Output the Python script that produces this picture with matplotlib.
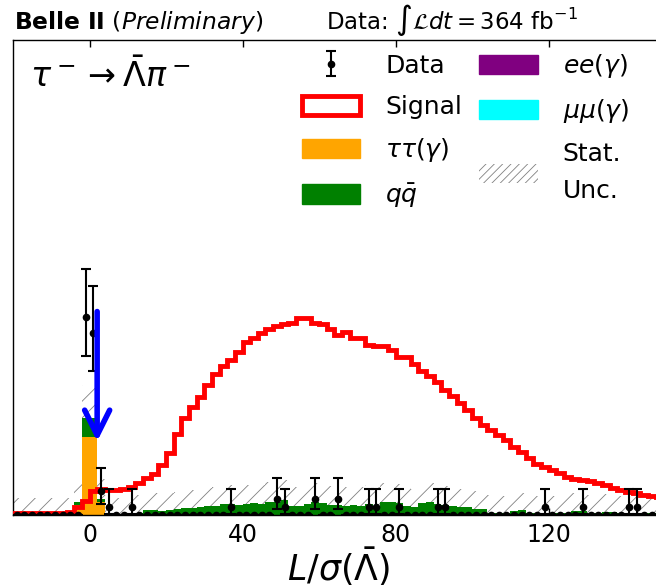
import numpy as np
import matplotlib.pyplot as plt
from matplotlib.patches import Patch

plt.rcParams['font.family'] = ['DejaVu Sans']
plt.rcParams['mathtext.fontset'] = 'dejavusans'
plt.rcParams['hatch.linewidth'] = 0.6

# binning: 2 units wide from -20 to 150
edges = np.arange(-20, 152, 2)
centers = edges[:-1] + 1

data_counts = [0, 0, 0, 0, 0, 0, 0, 0, 0, 25,
               23, 3, 1, 0, 0, 1, 0, 0, 0, 0,
               0, 0, 0, 0, 0, 0, 0, 0, 1, 0,
               0, 0, 0, 0, 2, 1, 0, 0, 0, 2,
               0, 0, 2, 0, 0, 0, 1, 1, 0, 0,
               1, 0, 0, 0, 0, 1, 1, 0, 0, 0,
               0, 0, 0, 0, 0, 0, 0, 0, 0, 1,
               0, 0, 0, 0, 1, 0, 0, 0, 0, 0,
               1, 1, 0, 0, 0]

signal = [0.3, 0.3, 0.3, 0.3, 0.3, 0.3, 0.3, 0.4, 1.0, 1.8,
          3.0, 3.3, 3.2, 3.2, 3.3, 3.5, 4.0, 4.7, 5.2, 6.3,
          7.8, 10.2, 12.2, 13.6, 14.9, 16.4, 17.8, 18.8, 19.6, 20.6,
          21.9, 22.4, 23.0, 23.5, 23.9, 24.1, 24.3, 24.9, 24.9, 24.3,
          24.1, 23.5, 22.7, 23.1, 22.3, 22.3, 21.5, 21.3, 21.3, 20.9,
          19.9, 19.9, 19.1, 18.2, 17.5, 16.8, 15.8, 15.0, 14.1, 13.3,
          12.2, 11.4, 10.7, 10.1, 9.5, 8.6, 8.0, 7.2, 6.5, 6.1,
          5.7, 5.3, 4.8, 4.6, 4.4, 4.3, 4.0, 3.8, 3.4, 3.2,
          2.9, 2.8, 2.5, 2.4, 2.3]

tautau = [0, 0, 0, 0, 0, 0, 0, 0, 1.3, 9.9,
          9.9, 1.7, 0.3, 0, 0, 0, 0, 0, 0, 0,
          0, 0, 0, 0, 0, 0, 0, 0, 0, 0,
          0, 0, 0, 0, 0, 0, 0, 0, 0, 0,
          0, 0, 0, 0, 0, 0, 0, 0, 0, 0,
          0, 0, 0, 0, 0, 0, 0, 0, 0, 0,
          0, 0, 0, 0, 0, 0, 0, 0, 0, 0,
          0, 0, 0, 0, 0, 0, 0, 0, 0, 0,
          0, 0, 0, 0, 0]

qqbar = [0, 0, 0, 0, 0, 0, 0, 0, 0.3, 2.4,
         2.4, 0.3, 0, 0, 0, 0, 0.3, 0.6, 0.6, 0.5,
         0.6, 0.7, 0.9, 0.9, 1.0, 1.1, 1.2, 1.4, 1.4, 1.3,
         1.4, 1.5, 1.4, 1.7, 1.6, 1.9, 1.2, 1.2, 1.4, 1.6,
         1.5, 1.3, 1.3, 1.2, 1.3, 1.2, 1.4, 1.2, 1.6, 1.7,
         1.5, 1.1, 1.0, 1.5, 1.6, 1.4, 1.3, 1.2, 1.0, 1.0,
         0.8, 0.7, 0.3, 0.2, 0.2, 0.5, 0.6, 0.3, 0.2, 0.2,
         0.2, 0.2, 0.3, 0.5, 0.5, 0.3, 0.3, 0.4, 0.4, 0.2,
         0.2, 0.2, 0.3, 0.2, 0.2]

ee = [0] * 85
mumu = [0] * 85

unc_floor = 2.1   # stat. unc. level in empty bins

data_counts = np.array(data_counts, dtype=float)
stack = np.array(tautau) + np.array(qqbar) + np.array(ee) + np.array(mumu)
unc = np.sqrt(unc_floor**2 + stack)
band_lo = np.clip(stack - unc, 0, None)
band_hi = stack + unc

# asymmetric poisson errors (Gehrels approx.), none drawn for empty bins
n = data_counts
safe = np.where(n > 0, n, 1)
err_hi = np.where(n > 0, np.sqrt(safe + 0.75) + 1, 0)
err_lo = np.where(n > 0, n - safe * (1 - 1 / (9 * safe) - 1 / (3 * np.sqrt(safe)))**3, 0)

fig = plt.figure(figsize=(6.56, 5.87), dpi=100)
ax = fig.add_axes([13 / 656, 72 / 587, 650.3 / 656, 475 / 587])

ax.bar(centers, band_hi - band_lo, bottom=band_lo, width=2,
       fill=False, hatch='//', edgecolor='gray', linewidth=0, zorder=1)

ax.hist([centers] * 4, bins=edges, weights=[tautau, qqbar, ee, mumu], stacked=True,
        histtype='stepfilled', color=['orange', 'green', 'purple', 'cyan'], zorder=2)

ax.hist(centers, bins=edges, weights=signal, histtype='step', color='red', lw=3.5, zorder=3)

eb = ax.errorbar(centers, data_counts, yerr=[err_lo, err_hi], fmt='o', color='black',
                 ms=4.5, elinewidth=1.5, capsize=3.5, capthick=1.5, zorder=5, label='Data')

ax.annotate('', xy=(2.0, 9.3), xytext=(2.0, 25.7),
            arrowprops=dict(arrowstyle='->,head_length=0.9,head_width=0.45', color='blue',
                            lw=4, mutation_scale=20, shrinkA=0, shrinkB=0), zorder=6)

ax.set_xlim(-20, 150)
ax.set_ylim(0, 60)
ax.set_yticks([])
ax.set_xticks([0, 40, 80, 120])
ax.tick_params(axis='x', direction='in', top=True, bottom=True, length=5, width=1,
               labelsize=17, pad=6)
for s in ax.spines.values():
    s.set_linewidth(1.0)
ax.set_xlabel(r'$L/\sigma(\bar{\Lambda})$', fontsize=25, labelpad=-1)

ax.text(0.026, 0.902, r'$\tau^- \rightarrow \bar{\Lambda}\pi^-$', transform=ax.transAxes,
        fontsize=24, va='baseline', ha='left')

fig.text(14 / 656, 1 - 29 / 587, r'$\mathbf{Belle\ II}$ ($\mathit{Preliminary}$)',
         fontsize=16.8, va='baseline', ha='left')
fig.text(326 / 656, 1 - 29 / 587, r'Data: $\int\mathcal{L}dt = 364$ fb$^{-1}$',
         fontsize=16.5, va='baseline', ha='left')

handles = [eb,
           Patch(facecolor='white', edgecolor='red', lw=3.5),
           Patch(color='orange'),
           Patch(color='green'),
           Patch(color='purple'),
           Patch(color='cyan'),
           Patch(facecolor='none', edgecolor='gray', hatch='////', lw=0)]
labels = ['Data', 'Signal', r'$\tau\tau(\gamma)$', r'$q\bar{q}$',
          r'$ee(\gamma)$', r'$\mu\mu(\gamma)$', 'Stat.\nUnc.']
leg = ax.legend(handles, labels, ncol=2, frameon=False, fontsize=18, loc='upper left',
                bbox_to_anchor=(0.444, 0.975), borderaxespad=0, borderpad=0,
                handlelength=2.35, handleheight=0.8, handletextpad=1.0,
                columnspacing=0.67, labelspacing=0.69)
for t in leg.get_texts():
    t.set_linespacing(1.65)

fig.savefig('out.png', dpi=100)
